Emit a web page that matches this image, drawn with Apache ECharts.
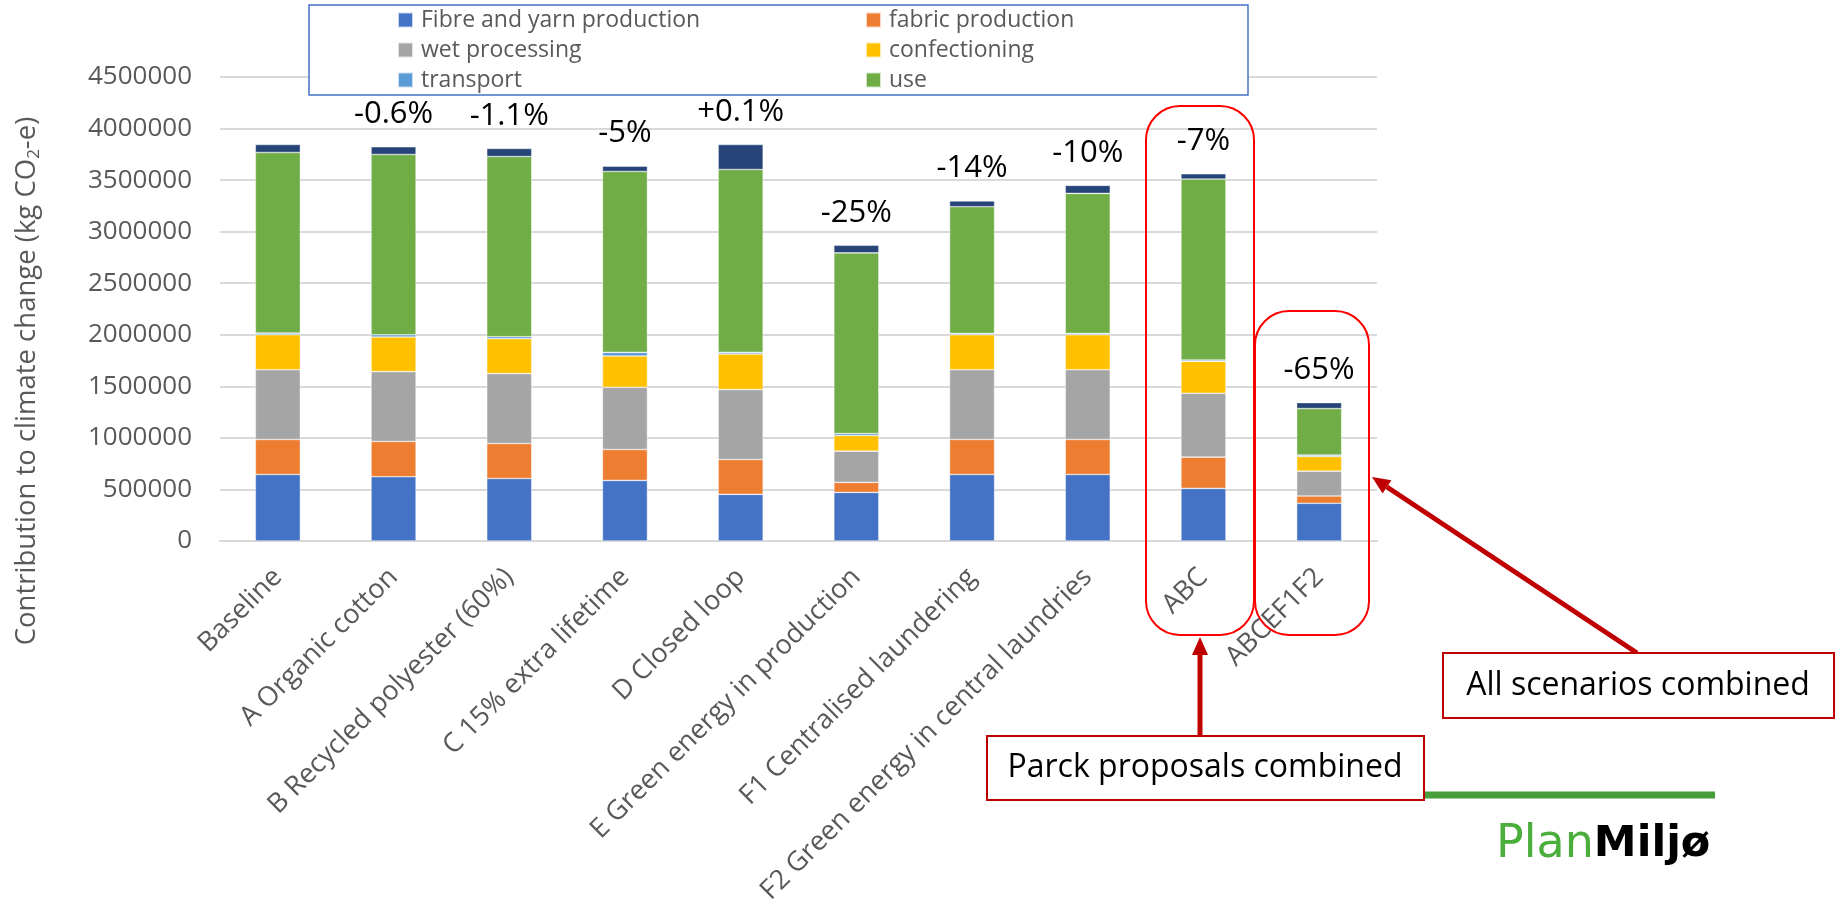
<!DOCTYPE html>
<html>
<head>
<meta charset="utf-8">
<script src="https://cdn.jsdelivr.net/npm/echarts@6/dist/echarts.min.js"></script>
<style>
  html, body { margin: 0; padding: 0; background: #fff; }
  #chart { width: 1843px; height: 907px; }
</style>
</head>
<body>
<div id="chart"></div>
<script>
// ---- Data ----
const categories = ['Baseline', 'A Organic cotton', 'B Recycled polyester (60%)', 'C 15% extra lifetime',
  'D Closed loop', 'E Green energy in production', 'F1 Centralised laundering',
  'F2 Green energy in central laundries', 'ABC', 'ABCEF1F2'];
const fibreYarn     = [645000, 623000, 606000, 587000, 452000, 471000, 645000, 645000, 510000, 365000];
const fabric        = [339000, 342000, 339000, 300000, 338000,  97000, 339000, 339000, 303000,  71000];
const wetProcessing = [677000, 677000, 678000, 603000, 678000, 303000, 677000, 677000, 619000, 241000];
const confectioning = [339000, 336000, 338000, 304000, 345000, 152000, 339000, 339000, 310000, 142000];
const transport     = [ 16000,  22000,  20000,  35000,  16000,  19000,  13000,  13000,  13000,  13000];
const use           = [1752000, 1749000, 1748000, 1755000, 1774000, 1752000, 1229000, 1358000, 1755000, 452000];
const other         = [ 77000,  74000,  78000,  52000, 242000,  74000,  55000,  78000,  51000,  58000];
const changeLabels  = ['', '-0.6%', '-1.1%', '-5%', '+0.1%', '-25%', '-14%', '-10%', '-7%', '-65%'];
const yTicks = { min: 0, max: 4500000, interval: 500000 };

const FONT = 'Open Sans';
const chart = echarts.init(document.getElementById('chart'));

function barSeries(name, data, color) {
  return {
    name: name, type: 'bar', stack: 'total', data: data, barWidth: 45,
    itemStyle: { color: color, borderColor: 'rgba(255,255,255,0.7)', borderWidth: 0.6 },
    emphasis: { disabled: true }
  };
}

const series = [
  barSeries('Fibre and yarn production', fibreYarn, '#4472C4'),
  barSeries('fabric production', fabric, '#ED7D31'),
  barSeries('wet processing', wetProcessing, '#A5A5A5'),
  barSeries('confectioning', confectioning, '#FFC000'),
  barSeries('transport', transport, '#5B9BD5'),
  barSeries('use', use, '#70AD47'),
  barSeries('other', other, '#264478')
];
series[6].label = {
  show: true, position: 'top', distance: 17,
  formatter: p => changeLabels[p.dataIndex],
  fontFamily: FONT, fontSize: 31, color: '#000'
};

const legendText = { fontFamily: FONT, fontSize: 23, color: '#595959', lineHeight: 30, padding: [0, 0, 0, 3] };

// arrow helper (geometry of annotation decorations, not data)
function arrow(x1, y1, x2, y2) {
  const dx = x2 - x1, dy = y2 - y1, L = Math.sqrt(dx * dx + dy * dy);
  const ux = dx / L, uy = dy / L, hl = 18, hw = 8;
  const bx = x2 - ux * hl, by = y2 - uy * hl;
  return [
    { type: 'line', z: 20, shape: { x1: x1, y1: y1, x2: bx, y2: by }, style: { stroke: '#C00000', lineWidth: 5 } },
    { type: 'polygon', z: 20, shape: { points: [[x2, y2], [bx - uy * hw, by + ux * hw], [bx + uy * hw, by - ux * hw]] },
      style: { fill: '#C00000' } }
  ];
}

const option = {
  animation: false,
  backgroundColor: '#fff',
  textStyle: { fontFamily: FONT },
  grid: { left: 220, right: 466, top: 77, bottom: 364, containLabel: false },
  legend: [
    { data: ['Fibre and yarn production', 'wet processing', 'transport'], orient: 'vertical',
      left: 392, top: 0, padding: 5, itemWidth: 15, itemHeight: 15, itemGap: 0, icon: 'rect', z: 10,
      textStyle: legendText, selectedMode: false },
    { data: ['fabric production', 'confectioning', 'use'], orient: 'vertical',
      left: 860, top: 0, padding: 5, itemWidth: 15, itemHeight: 15, itemGap: 0, icon: 'rect', z: 10,
      textStyle: legendText, selectedMode: false }
  ],
  xAxis: {
    type: 'category', data: categories,
    axisLine: { lineStyle: { color: '#D9D9D9', width: 2 } },
    axisTick: { show: false },
    axisLabel: { interval: 0, rotate: 45, margin: 32, fontFamily: FONT, fontSize: 27, color: '#595959' }
  },
  yAxis: {
    type: 'value', min: yTicks.min, max: yTicks.max, interval: yTicks.interval,
    axisLine: { show: false }, axisTick: { show: false },
    splitLine: { lineStyle: { color: '#D9D9D9', width: 2 } },
    axisLabel: { margin: 28, fontFamily: FONT, fontSize: 26, color: '#595959', formatter: v => String(v) }
  },
  series: series,
  graphic: [
    { type: 'rect', z: 5, shape: { x: 309, y: 5, width: 939, height: 90 },
      style: { fill: '#fff', stroke: '#4472C4', lineWidth: 1.5 } },
    { type: 'text', z: 5, x: 27, y: 381, rotation: Math.PI / 2,
      style: {
        text: '{a|Contribution to climate change (kg CO}{s|2}{a|-e)}',
        textAlign: 'center', textVerticalAlign: 'middle',
        rich: {
          a: { fontFamily: FONT, fontSize: 27.5, fill: '#595959', color: '#595959', lineHeight: 32 },
          s: { fontFamily: FONT, fontSize: 17, fill: '#595959', color: '#595959', lineHeight: 32, verticalAlign: 'bottom', padding: [10, 0, 0, 0] }
        }
      } },
    { type: 'rect', z: 15, shape: { x: 1146, y: 106, width: 108, height: 529, r: 34 },
      style: { fill: 'none', stroke: '#FF0000', lineWidth: 2 } },
    { type: 'rect', z: 15, shape: { x: 1255, y: 311, width: 114, height: 324, r: 34 },
      style: { fill: 'none', stroke: '#FF0000', lineWidth: 2 } },
    ...arrow(1200, 736, 1200, 637),
    ...arrow(1637, 653, 1372, 477),
    { type: 'line', z: 18, shape: { x1: 1424, y1: 795, x2: 1715, y2: 795 },
      style: { stroke: '#479E3A', lineWidth: 7 } },
    { type: 'rect', z: 21, shape: { x: 987, y: 736, width: 437, height: 64 },
      style: { fill: '#fff', stroke: '#C00000', lineWidth: 2 } },
    { type: 'text', z: 22, x: 1205, y: 768,
      style: { text: 'Parck proposals combined', font: '32px "Open Sans"', fill: '#000',
        textAlign: 'center', textVerticalAlign: 'middle' } },
    { type: 'rect', z: 21, shape: { x: 1443, y: 653, width: 391, height: 65 },
      style: { fill: '#fff', stroke: '#C00000', lineWidth: 2 } },
    { type: 'text', z: 22, x: 1638, y: 686,
      style: { text: 'All scenarios combined', font: '32px "Open Sans"', fill: '#000',
        textAlign: 'center', textVerticalAlign: 'middle' } },
    { type: 'text', z: 22, x: 1496, y: 845,
      style: {
        text: '{p|Plan}{m|Miljø}', textAlign: 'left', textVerticalAlign: 'middle',
        rich: {
          p: { fontFamily: 'DejaVu Sans', fontSize: 46, fill: '#4BAE3C', color: '#4BAE3C' },
          m: { fontFamily: 'DejaVu Sans', fontSize: 43, fontWeight: 'bold', fill: '#000', color: '#000' }
        }
      } }
  ]
};
chart.setOption(option);
</script>
</body>
</html>
